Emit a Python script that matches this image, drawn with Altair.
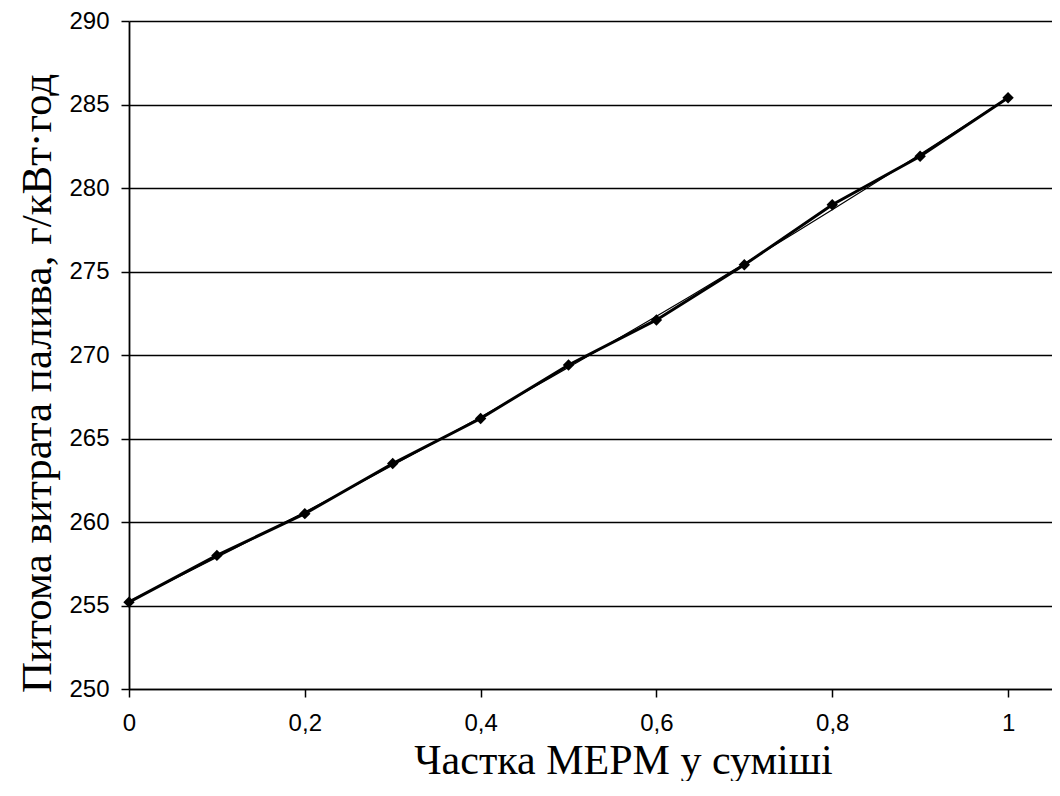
import altair as alt
import pandas as pd

# Data
share = [0.0, 0.1, 0.2, 0.3, 0.4, 0.5, 0.6, 0.7, 0.8, 0.9, 1.0]
consumption = [255.2, 258.0, 260.5, 263.5, 266.2, 269.4, 272.1, 275.4, 279.0, 281.9, 285.4]
x_ticks = [0, 0.2, 0.4, 0.6, 0.8, 1.0]
y_ticks = [250, 255, 260, 265, 270, 275, 280, 285, 290]

df = pd.DataFrame({"x": share, "y": consumption})

xscale = alt.Scale(domain=[0, 1.050], nice=False, zero=False)
yscale = alt.Scale(domain=[250, 290], nice=False, zero=False)

xaxis = alt.Axis(
    values=x_ticks,
    title="Частка МЕРМ у суміші",
    labelExpr="replace(format(datum.value, '~g'), '.', ',')",
    grid=False,
    tickColor="black", tickSize=8, tickWidth=1.5,
    domainColor="black", domainWidth=1.5,
    labelFont="Liberation Sans", labelFontSize=24, labelColor="black",
    labelPadding=14, labelFlush=False,
    titleFont="Liberation Serif", titleFontSize=42, titleFontWeight="normal",
    titleColor="black", titleBaseline="alphabetic",
    titleX=494, titleY=84,
)
yaxis = alt.Axis(
    values=y_ticks,
    title="Питома витрата палива, г/кВт·год",
    grid=True, gridColor="black", gridWidth=1.3, gridOpacity=1,
    tickColor="black", tickSize=8, tickWidth=1.5,
    domainColor="black", domainWidth=1.8,
    labelFont="Liberation Sans", labelFontSize=24, labelColor="black",
    labelPadding=12,
    titleFont="Liberation Serif", titleFontSize=43, titleFontWeight="normal",
    titleColor="black", titleBaseline="alphabetic", titleAngle=-90,
    titleX=-79, titleY=362,
)

base = alt.Chart(df)

trend = base.transform_regression(
    "x", "y", method="poly", order=2
).mark_line(color="black", strokeWidth=1.2).encode(
    x=alt.X("x:Q", scale=xscale, axis=xaxis),
    y=alt.Y("y:Q", scale=yscale, axis=yaxis),
)

line = base.mark_line(color="black", strokeWidth=3).encode(
    x=alt.X("x:Q", scale=xscale),
    y=alt.Y("y:Q", scale=yscale),
)

points = base.mark_point(shape="diamond", filled=True, color="black", size=130, opacity=1).encode(
    x=alt.X("x:Q", scale=xscale),
    y=alt.Y("y:Q", scale=yscale),
)

chart = alt.layer(line, trend, points).properties(
    width=923,
    height=668,
    autosize=alt.AutoSizeParams(type="none"),
    padding={"left": 121, "top": 13, "right": 0, "bottom": 92},
    background="white",
).configure_view(stroke=None)

chart.save("out.html", embed_options={"renderer": "svg", "actions": False})
